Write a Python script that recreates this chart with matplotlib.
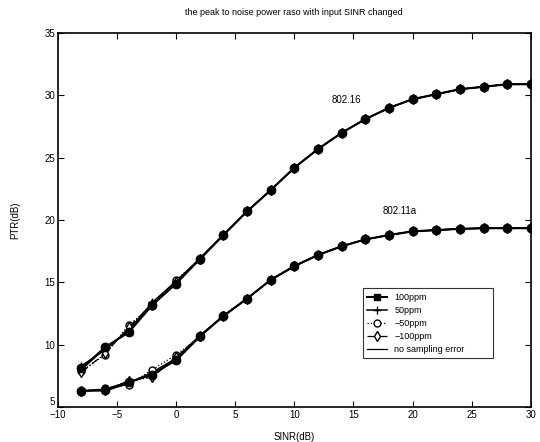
import numpy as np
import matplotlib
matplotlib.use("Agg")
import matplotlib.pyplot as plt

plt.rcParams['font.family'] = ['Liberation Sans', 'DejaVu Sans']

# SINR values (dB)
sinr = [-8, -6, -4, -2, 0, 2, 4, 6, 8, 10, 12, 14, 16, 18, 20, 22, 24, 26, 28, 30]

# 802.16 curves (PTR in dB)
w16_100 = [8.1, 9.8, 11.0, 13.2, 14.9, 16.9, 18.8, 20.7, 22.4, 24.2, 25.7, 27.0, 28.1, 29.0, 29.7, 30.1, 30.5, 30.7, 30.9, 30.9]
w16_50 = [8.3, 9.6, 11.2, 13.4, 15.1, 16.9, 18.8, 20.7, 22.4, 24.2, 25.7, 27.0, 28.1, 29.0, 29.7, 30.1, 30.5, 30.7, 30.9, 30.9]
w16_m50 = [7.9, 9.2, 11.6, 13.1, 15.2, 16.8, 18.8, 20.7, 22.4, 24.2, 25.7, 27.0, 28.1, 29.0, 29.7, 30.1, 30.5, 30.7, 30.9, 30.9]
w16_m100 = [7.8, 9.3, 11.4, 13.3, 15.0, 16.9, 18.8, 20.7, 22.4, 24.2, 25.7, 27.0, 28.1, 29.0, 29.7, 30.1, 30.5, 30.7, 30.9, 30.9]
w16_none = [8.0, 9.7, 11.1, 13.2, 14.9, 16.8, 18.8, 20.7, 22.4, 24.2, 25.7, 27.0, 28.1, 29.0, 29.7, 30.1, 30.5, 30.7, 30.9, 30.9]

# 802.11a curves (PTR in dB)
w11_100 = [6.3, 6.4, 7.0, 7.6, 8.8, 10.7, 12.3, 13.7, 15.2, 16.3, 17.2, 17.9, 18.45, 18.8, 19.1, 19.2, 19.3, 19.35, 19.35, 19.35]
w11_50 = [6.3, 6.3, 6.9, 7.8, 8.9, 10.7, 12.3, 13.7, 15.2, 16.3, 17.2, 17.9, 18.45, 18.8, 19.1, 19.2, 19.3, 19.35, 19.35, 19.35]
w11_m50 = [6.2, 6.5, 6.8, 8.0, 9.2, 10.6, 12.4, 13.7, 15.2, 16.4, 17.2, 17.9, 18.45, 18.8, 19.1, 19.2, 19.3, 19.35, 19.35, 19.35]
w11_m100 = [6.3, 6.4, 7.1, 7.4, 9.0, 10.7, 12.3, 13.7, 15.2, 16.3, 17.2, 17.9, 18.45, 18.8, 19.1, 19.2, 19.3, 19.35, 19.35, 19.35]
w11_none = [6.3, 6.4, 7.0, 7.7, 8.7, 10.6, 12.3, 13.7, 15.2, 16.3, 17.2, 17.9, 18.45, 18.8, 19.1, 19.2, 19.3, 19.35, 19.35, 19.35]

labels = ["100ppm", "50ppm", "\u221250ppm", "\u2212100ppm", "no sampling error"]

fig = plt.figure(figsize=(5.4, 4.42), dpi=100)
ax = fig.add_axes([0.107, 0.079, 0.876, 0.846])

styles = [
    dict(linestyle='-', marker='s', markersize=4, markerfacecolor='k', linewidth=1.5),
    dict(linestyle='-', marker='+', markersize=6, linewidth=1.1),
    dict(linestyle=':', marker='o', markersize=5, markerfacecolor='white', linewidth=0.9),
    dict(linestyle='-.', marker='d', markersize=5.5, markerfacecolor='white', linewidth=0.9),
    dict(linestyle='-', marker='', linewidth=0.9),
]

for data16, data11, st, lab in zip(
        [w16_100, w16_50, w16_m50, w16_m100, w16_none],
        [w11_100, w11_50, w11_m50, w11_m100, w11_none], styles, labels):
    ax.plot(sinr, data16, color='k', label=lab, **st)
    ax.plot(sinr, data11, color='k', **st)

# blob-like filled markers on top (scan look)
ax.plot(sinr, w16_100, color='k', linestyle='none', marker='o', markersize=6)
ax.plot(sinr, w11_100, color='k', linestyle='none', marker='o', markersize=6)

ax.set_xlim(-10, 30)
ax.set_ylim(5, 35)
ax.set_xticks(np.arange(-10, 31, 5))
ax.set_yticks(np.arange(5, 36, 5))
ax.set_xticklabels(["\u221210", "\u22125", "0", "5", "10", "15", "20", "25", "30"])
ax.tick_params(direction='in', top=True, right=True, length=4, width=0.8, labelsize=7, pad=2)
# the "5" sits a little above the corner, as in the original
ax.get_yticklabels()[0].set_verticalalignment('bottom')
for sp in ax.spines.values():
    sp.set_linewidth(1.2)

ax.text(14.4, 29.6, "802.16", fontsize=7, ha='center', va='center')
ax.text(18.9, 20.7, "802.11a", fontsize=7, ha='center', va='center')

ax.set_title("the peak to noise power raso with input SINR changed", fontsize=6.5, pad=13)
ax.set_xlabel("SINR(dB)", fontsize=7, labelpad=9)
ax.set_ylabel("PTR(dB)", fontsize=7, labelpad=17)

leg = ax.legend(loc='upper left', bbox_to_anchor=(0.645, 0.134, 0.275, 0.184), mode='expand',
                fontsize=6.5, frameon=True, fancybox=False, handlelength=2.2,
                borderaxespad=0, labelspacing=0.45, borderpad=0.5)
leg.get_frame().set_edgecolor('k')
leg.get_frame().set_linewidth(0.8)

fig.savefig("out.png", dpi=100)
